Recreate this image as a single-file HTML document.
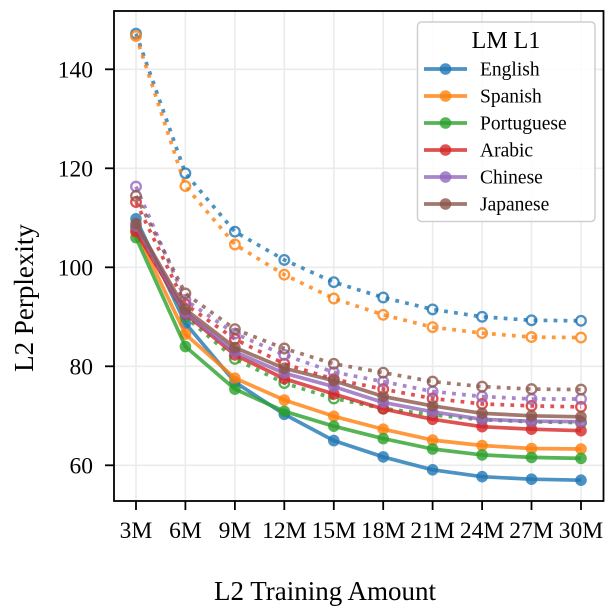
<!DOCTYPE html>
<html>
<head>
<meta charset="utf-8">
<style>
html,body{margin:0;padding:0;background:#fff;}
svg{display:block;font-family:"Liberation Serif","DejaVu Serif",serif;}
</style>
</head>
<body>
<svg width="608" height="608" viewBox="0 0 608 608" xmlns="http://www.w3.org/2000/svg">
<defs>
<clipPath id="clip"><rect x="114" y="11" width="489.5" height="490"/></clipPath>
<marker id="f0" markerWidth="14" markerHeight="14" refX="7" refY="7" markerUnits="userSpaceOnUse" overflow="visible"><circle cx="7" cy="7" r="5.8" fill="#1f77b4" fill-opacity="0.8"/></marker>
<marker id="f1" markerWidth="14" markerHeight="14" refX="7" refY="7" markerUnits="userSpaceOnUse" overflow="visible"><circle cx="7" cy="7" r="5.8" fill="#ff7f0e" fill-opacity="0.8"/></marker>
<marker id="f2" markerWidth="14" markerHeight="14" refX="7" refY="7" markerUnits="userSpaceOnUse" overflow="visible"><circle cx="7" cy="7" r="5.8" fill="#2ca02c" fill-opacity="0.8"/></marker>
<marker id="f3" markerWidth="14" markerHeight="14" refX="7" refY="7" markerUnits="userSpaceOnUse" overflow="visible"><circle cx="7" cy="7" r="5.8" fill="#d62728" fill-opacity="0.8"/></marker>
<marker id="f4" markerWidth="14" markerHeight="14" refX="7" refY="7" markerUnits="userSpaceOnUse" overflow="visible"><circle cx="7" cy="7" r="5.8" fill="#9467bd" fill-opacity="0.8"/></marker>
<marker id="f5" markerWidth="14" markerHeight="14" refX="7" refY="7" markerUnits="userSpaceOnUse" overflow="visible"><circle cx="7" cy="7" r="5.8" fill="#8c564b" fill-opacity="0.8"/></marker>
<marker id="o0" markerWidth="14" markerHeight="14" refX="7" refY="7" markerUnits="userSpaceOnUse" overflow="visible"><circle cx="7" cy="7" r="4.8" fill="none" stroke="#1f77b4" stroke-width="2.3" stroke-opacity="0.8" stroke-dasharray="none"/></marker>
<marker id="o1" markerWidth="14" markerHeight="14" refX="7" refY="7" markerUnits="userSpaceOnUse" overflow="visible"><circle cx="7" cy="7" r="4.8" fill="none" stroke="#ff7f0e" stroke-width="2.3" stroke-opacity="0.8" stroke-dasharray="none"/></marker>
<marker id="o2" markerWidth="14" markerHeight="14" refX="7" refY="7" markerUnits="userSpaceOnUse" overflow="visible"><circle cx="7" cy="7" r="4.8" fill="none" stroke="#2ca02c" stroke-width="2.3" stroke-opacity="0.8" stroke-dasharray="none"/></marker>
<marker id="o3" markerWidth="14" markerHeight="14" refX="7" refY="7" markerUnits="userSpaceOnUse" overflow="visible"><circle cx="7" cy="7" r="4.8" fill="none" stroke="#d62728" stroke-width="2.3" stroke-opacity="0.8" stroke-dasharray="none"/></marker>
<marker id="o4" markerWidth="14" markerHeight="14" refX="7" refY="7" markerUnits="userSpaceOnUse" overflow="visible"><circle cx="7" cy="7" r="4.8" fill="none" stroke="#9467bd" stroke-width="2.3" stroke-opacity="0.8" stroke-dasharray="none"/></marker>
<marker id="o5" markerWidth="14" markerHeight="14" refX="7" refY="7" markerUnits="userSpaceOnUse" overflow="visible"><circle cx="7" cy="7" r="4.8" fill="none" stroke="#8c564b" stroke-width="2.3" stroke-opacity="0.8" stroke-dasharray="none"/></marker>
</defs>

<!-- grid -->
<g stroke="#ebebeb" stroke-width="1.6">
<line x1="136" y1="11" x2="136" y2="501"/>
<line x1="185.4" y1="11" x2="185.4" y2="501"/>
<line x1="234.9" y1="11" x2="234.9" y2="501"/>
<line x1="284.3" y1="11" x2="284.3" y2="501"/>
<line x1="333.8" y1="11" x2="333.8" y2="501"/>
<line x1="383.2" y1="11" x2="383.2" y2="501"/>
<line x1="432.6" y1="11" x2="432.6" y2="501"/>
<line x1="482.1" y1="11" x2="482.1" y2="501"/>
<line x1="531.5" y1="11" x2="531.5" y2="501"/>
<line x1="581" y1="11" x2="581" y2="501"/>
<line x1="114" y1="69.3" x2="603.5" y2="69.3"/>
<line x1="114" y1="168.3" x2="603.5" y2="168.3"/>
<line x1="114" y1="267.3" x2="603.5" y2="267.3"/>
<line x1="114" y1="366.3" x2="603.5" y2="366.3"/>
<line x1="114" y1="465.3" x2="603.5" y2="465.3"/>
</g>

<!-- data -->
<g clip-path="url(#clip)" fill="none" stroke-width="3.7" stroke-opacity="0.8" stroke-linejoin="round">
<!-- English -->
<polyline stroke="#1f77b4" marker-start="url(#f0)" marker-mid="url(#f0)" marker-end="url(#f0)" points="136,218.8 185.4,323.2 234.9,382.1 284.3,414.3 333.8,440.6 383.2,456.9 432.6,469.8 482.1,476.7 531.5,479.2 581,480.2"/>
<polyline stroke="#1f77b4" stroke-dasharray="3.8 6.2" marker-start="url(#o0)" marker-mid="url(#o0)" marker-end="url(#o0)" points="136,33.7 185.4,173.3 234.9,231.7 284.3,259.9 333.8,282.2 383.2,297.5 432.6,309.4 482.1,316.8 531.5,320.3 581,320.8"/>
<!-- Spanish -->
<polyline stroke="#ff7f0e" marker-start="url(#f1)" marker-mid="url(#f1)" marker-end="url(#f1)" points="136,231.2 185.4,334.1 234.9,378.2 284.3,400 333.8,416.3 383.2,429.2 432.6,440.1 482.1,445.5 531.5,448.5 581,449"/>
<polyline stroke="#ff7f0e" stroke-dasharray="3.8 6.2" marker-start="url(#o1)" marker-mid="url(#o1)" marker-end="url(#o1)" points="136,36.1 185.4,186.1 234.9,244.5 284.3,274.7 333.8,298.5 383.2,314.8 432.6,327.2 482.1,333.1 531.5,337.1 581,337.6"/>
<!-- Portuguese -->
<polyline stroke="#2ca02c" marker-start="url(#f2)" marker-mid="url(#f2)" marker-end="url(#f2)" points="136,237.6 185.4,346.5 234.9,389.1 284.3,411.3 333.8,426.2 383.2,438.6 432.6,449 482.1,454.9 531.5,457.4 581,458.4"/>
<polyline stroke="#2ca02c" stroke-dasharray="3.8 6.2" marker-start="url(#o2)" marker-mid="url(#o2)" marker-end="url(#o2)" points="136,227.7 185.4,316.8 234.9,358.9 284.3,383.1 333.8,398.5 383.2,408.4 432.6,414.8 482.1,419.8 531.5,421.7 581,422.7"/>
<!-- Arabic -->
<polyline stroke="#d62728" marker-start="url(#f3)" marker-mid="url(#f3)" marker-end="url(#f3)" points="136,231.7 185.4,313.8 234.9,354.9 284.3,378.7 333.8,394 383.2,408.9 432.6,419.3 482.1,426.7 531.5,429.2 581,430.7"/>
<polyline stroke="#d62728" stroke-dasharray="3.8 6.2" marker-start="url(#o3)" marker-mid="url(#o3)" marker-end="url(#o3)" points="136,202 185.4,304.4 234.9,339.1 284.3,363.8 333.8,379.2 383.2,389.1 432.6,398.5 482.1,403.9 531.5,405.9 581,406.9"/>
<!-- Chinese -->
<polyline stroke="#9467bd" marker-start="url(#f4)" marker-mid="url(#f4)" marker-end="url(#f4)" points="136,226.2 185.4,312.8 234.9,351.9 284.3,373.2 333.8,386.6 383.2,402.4 432.6,411.8 482.1,419.3 531.5,421.2 581,421.7"/>
<polyline stroke="#9467bd" stroke-dasharray="3.8 6.2" marker-start="url(#o4)" marker-mid="url(#o4)" marker-end="url(#o4)" points="136,186.6 185.4,300 234.9,333.6 284.3,354.9 333.8,372.2 383.2,381.6 432.6,391.5 482.1,396.5 531.5,399 581,399"/>
<!-- Japanese -->
<polyline stroke="#8c564b" marker-start="url(#f5)" marker-mid="url(#f5)" marker-end="url(#f5)" points="136,223.7 185.4,309.4 234.9,347.5 284.3,368.3 333.8,380.7 383.2,396.5 432.6,405.9 482.1,413.3 531.5,415.8 581,416.8"/>
<polyline stroke="#8c564b" stroke-dasharray="3.8 6.2" marker-start="url(#o5)" marker-mid="url(#o5)" marker-end="url(#o5)" points="136,196 185.4,293.5 234.9,329.2 284.3,348.5 333.8,363.8 383.2,372.7 432.6,381.6 482.1,386.6 531.5,389.1 581,389.6"/>
</g>

<!-- spines -->
<rect x="114" y="11" width="489.5" height="490" fill="none" stroke="#000" stroke-width="1.8"/>

<!-- ticks -->
<g stroke="#000" stroke-width="1.8">
<line x1="105" y1="69.3" x2="114" y2="69.3"/>
<line x1="105" y1="168.3" x2="114" y2="168.3"/>
<line x1="105" y1="267.3" x2="114" y2="267.3"/>
<line x1="105" y1="366.3" x2="114" y2="366.3"/>
<line x1="105" y1="465.3" x2="114" y2="465.3"/>
<line x1="136" y1="501" x2="136" y2="510"/>
<line x1="185.4" y1="501" x2="185.4" y2="510"/>
<line x1="234.9" y1="501" x2="234.9" y2="510"/>
<line x1="284.3" y1="501" x2="284.3" y2="510"/>
<line x1="333.8" y1="501" x2="333.8" y2="510"/>
<line x1="383.2" y1="501" x2="383.2" y2="510"/>
<line x1="432.6" y1="501" x2="432.6" y2="510"/>
<line x1="482.1" y1="501" x2="482.1" y2="510"/>
<line x1="531.5" y1="501" x2="531.5" y2="510"/>
<line x1="581" y1="501" x2="581" y2="510"/>
</g>

<!-- tick labels -->
<g font-size="23.5" fill="#000" text-anchor="end">
<text x="93" y="77.5">140</text>
<text x="93" y="176.5">120</text>
<text x="93" y="275.5">100</text>
<text x="93" y="374.5">80</text>
<text x="93" y="473.5">60</text>
</g>
<g font-size="23.5" fill="#000" text-anchor="middle">
<text x="136" y="538">3M</text>
<text x="185.4" y="538">6M</text>
<text x="234.9" y="538">9M</text>
<text x="284.3" y="538">12M</text>
<text x="333.8" y="538">15M</text>
<text x="383.2" y="538">18M</text>
<text x="432.6" y="538">21M</text>
<text x="482.1" y="538">24M</text>
<text x="531.5" y="538">27M</text>
<text x="581" y="538">30M</text>
</g>

<!-- axis labels -->
<text x="325" y="600" font-size="27" text-anchor="middle" fill="#000">L2 Training Amount</text>
<text transform="translate(33,298) rotate(-90)" font-size="27" text-anchor="middle" fill="#000">L2 Perplexity</text>

<!-- legend -->
<rect x="417.5" y="22" width="177.5" height="199.5" rx="4" ry="4" fill="#fff" fill-opacity="0.85" stroke="#cfcfcf" stroke-width="1.5"/>
<text x="506" y="48" font-size="24" text-anchor="middle" fill="#000">LM L1</text>
<g stroke-width="3.7" stroke-opacity="0.8">
<line x1="424" y1="69" x2="467" y2="69" stroke="#1f77b4"/>
<line x1="424" y1="96" x2="467" y2="96" stroke="#ff7f0e"/>
<line x1="424" y1="123" x2="467" y2="123" stroke="#2ca02c"/>
<line x1="424" y1="150" x2="467" y2="150" stroke="#d62728"/>
<line x1="424" y1="177" x2="467" y2="177" stroke="#9467bd"/>
<line x1="424" y1="204" x2="467" y2="204" stroke="#8c564b"/>
</g>
<g fill-opacity="0.8">
<circle cx="445.5" cy="69" r="5.8" fill="#1f77b4"/>
<circle cx="445.5" cy="96" r="5.8" fill="#ff7f0e"/>
<circle cx="445.5" cy="123" r="5.8" fill="#2ca02c"/>
<circle cx="445.5" cy="150" r="5.8" fill="#d62728"/>
<circle cx="445.5" cy="177" r="5.8" fill="#9467bd"/>
<circle cx="445.5" cy="204" r="5.8" fill="#8c564b"/>
</g>
<g font-size="19.5" fill="#000">
<text x="480" y="75.5">English</text>
<text x="480" y="102.5">Spanish</text>
<text x="480" y="129.5">Portuguese</text>
<text x="480" y="156.5">Arabic</text>
<text x="480" y="183.5">Chinese</text>
<text x="480" y="210.5">Japanese</text>
</g>
</svg>
</body>
</html>
